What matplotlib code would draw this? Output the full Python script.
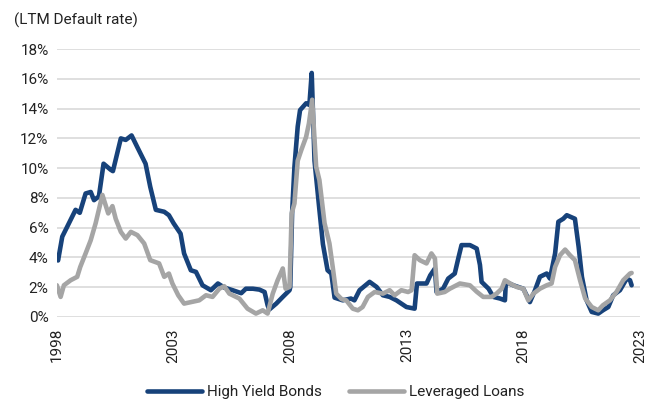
import numpy as np
import matplotlib.pyplot as plt

plt.rcParams['font.family'] = ['Roboto', 'DejaVu Sans']

# LTM default rates, decimal year vs percent
hy_year = [1998.0, 1998.05, 1998.23, 1998.44, 1998.8, 1998.98, 1999.23, 1999.45, 1999.59, 1999.8,
           2000.0, 2000.3, 2000.4, 2000.74, 2000.95, 2001.2, 2001.45, 2001.8, 2002.0, 2002.24,
           2002.6, 2002.8, 2003.0, 2003.3, 2003.45, 2003.74, 2003.96, 2004.24, 2004.6, 2004.9,
           2005.17, 2005.53, 2005.9, 2006.1, 2006.4, 2006.68, 2006.9, 2007.03, 2007.1, 2007.4,
           2007.68, 2007.97, 2008.0, 2008.08, 2008.18, 2008.32, 2008.42, 2008.68, 2008.82, 2008.92,
           2009.04, 2009.25, 2009.4, 2009.6, 2009.76, 2009.9, 2010.25, 2010.6, 2010.75, 2010.97,
           2011.4, 2011.7, 2011.97, 2012.26, 2012.55, 2012.98, 2013.33, 2013.43, 2013.84, 2014.0,
           2014.2, 2014.27, 2014.55, 2014.77, 2015.05, 2015.2, 2015.34, 2015.7, 2015.99, 2016.13,
           2016.2, 2016.5, 2016.7, 2016.99, 2017.2, 2017.24, 2017.56, 2017.99, 2018.27, 2018.49,
           2018.7, 2018.99, 2019.13, 2019.35, 2019.49, 2019.7, 2019.85, 2020.2, 2020.36, 2020.5,
           2020.7, 2020.92, 2021.2, 2021.4, 2021.63, 2021.84, 2022.13, 2022.42, 2022.56, 2022.63]
hy_rate = [4.0, 3.8, 5.4, 6.06, 7.2, 7.0, 8.3, 8.4, 7.85, 8.1,
           10.3, 9.9, 9.8, 12.0, 11.9, 12.2, 11.4, 10.3, 8.75, 7.2,
           7.07, 6.84, 6.3, 5.6, 4.27, 3.14, 3.03, 2.13, 1.8, 2.25,
           1.98, 1.8, 1.6, 1.9, 1.9, 1.84, 1.68, 0.79, 0.5, 0.9,
           1.35, 1.8, 2.0, 7.0, 10.1, 12.8, 13.9, 14.36, 14.25, 16.4,
           10.5, 7.2, 4.9, 3.14, 2.92, 1.3, 1.12, 1.24, 1.12, 1.8,
           2.36, 2.02, 1.46, 1.35, 1.12, 0.67, 0.56, 2.25, 2.25, 2.8,
           3.26, 1.68, 1.9, 2.58, 2.92, 3.93, 4.83, 4.83, 4.6, 3.5,
           2.36, 1.9, 1.35, 1.24, 1.12, 2.36, 2.13, 1.9, 1.0, 1.8,
           2.7, 2.92, 2.58, 4.27, 6.4, 6.6, 6.84, 6.6, 4.7, 2.7,
           1.12, 0.34, 0.23, 0.45, 0.67, 1.46, 1.8, 2.58, 2.47, 2.13]

ll_year = [1998.0, 1998.16, 1998.3, 1998.59, 1998.87, 1999.0, 1999.23, 1999.45, 1999.66, 1999.95,
           2000.2, 2000.38, 2000.52, 2000.74, 2000.95, 2001.17, 2001.45, 2001.74, 2002.0, 2002.38,
           2002.6, 2002.8, 2002.95, 2003.2, 2003.45, 2004.1, 2004.39, 2004.67, 2004.96, 2005.17,
           2005.39, 2005.82, 2006.17, 2006.53, 2006.82, 2007.03, 2007.25, 2007.46, 2007.68, 2007.8,
           2007.97, 2008.06, 2008.18, 2008.32, 2008.47, 2008.68, 2008.8, 2008.94, 2009.11, 2009.25,
           2009.47, 2009.68, 2009.82, 2009.97, 2010.2, 2010.4, 2010.68, 2010.9, 2011.1, 2011.33,
           2011.62, 2011.97, 2012.26, 2012.47, 2012.76, 2013.05, 2013.2, 2013.33, 2013.55, 2013.84,
           2014.05, 2014.2, 2014.3, 2014.62, 2014.84, 2015.27, 2015.7, 2015.99, 2016.27, 2016.63,
           2016.84, 2017.06, 2017.2, 2017.42, 2017.7, 2017.99, 2018.2, 2018.42, 2018.7, 2018.99,
           2019.2, 2019.35, 2019.56, 2019.78, 2019.99, 2020.2, 2020.42, 2020.64, 2020.92, 2021.2,
           2021.4, 2021.7, 2021.98, 2022.27, 2022.56, 2022.63]
ll_rate = [2.13, 1.35, 2.13, 2.47, 2.7, 3.36, 4.27, 5.16, 6.3, 8.2,
           6.96, 7.45, 6.6, 5.72, 5.27, 5.72, 5.5, 4.94, 3.82, 3.6,
           2.7, 2.92, 2.25, 1.46, 0.9, 1.12, 1.46, 1.35, 1.9, 2.07,
           1.57, 1.24, 0.56, 0.23, 0.45, 0.23, 1.57, 2.47, 3.26, 1.9,
           2.02, 6.96, 7.63, 10.5, 11.2, 12.1, 13.0, 14.6, 10.1, 9.2,
           6.3, 4.94, 3.36, 1.57, 1.2, 1.12, 0.56, 0.45, 0.67, 1.35,
           1.68, 1.57, 1.8, 1.46, 1.8, 1.68, 1.8, 4.15, 3.82, 3.6,
           4.27, 3.93, 1.57, 1.68, 1.9, 2.25, 2.13, 1.7, 1.35, 1.35,
           1.57, 1.9, 2.47, 2.25, 2.02, 1.9, 1.12, 1.57, 1.9, 2.13,
           2.25, 3.36, 4.15, 4.53, 4.15, 3.82, 2.47, 1.24, 0.67, 0.45,
           0.79, 1.12, 1.68, 2.47, 2.92, 2.96]

year_ticks = [1998, 2003, 2008, 2013, 2018, 2023]
pct_ticks = np.arange(0, 19, 2)

fig = plt.figure(figsize=(6.54, 4.01), dpi=100)
ax = fig.add_axes([0.087, 0.2095, 0.892, 0.668])

ax.plot(hy_year, hy_rate, color='#17427a', lw=3.3, solid_joinstyle='round',
        solid_capstyle='round', label='High Yield Bonds')
ax.plot(ll_year, ll_rate, color='#a5a5a5', lw=3.3, solid_joinstyle='round',
        solid_capstyle='round', label='Leveraged Loans')

ax.set_xlim(1998, 2023)
ax.set_ylim(0, 18)
ax.set_xticks(year_ticks)
ax.set_xticklabels([str(y) for y in year_ticks], rotation=90)
ax.set_yticks(pct_ticks)
ax.set_yticklabels([f'{v}%' for v in pct_ticks])
ax.tick_params(length=0, labelsize=11, colors='#222222', pad=6)
ax.tick_params(axis='x', pad=8)
ax.grid(axis='y', color='#d9d9d9', lw=1.2)
ax.set_axisbelow(True)
for s in ax.spines.values():
    s.set_visible(False)

fig.text(0.021, 0.95, '(LTM Default rate)', fontsize=11, color='#222222', va='center')

fig.legend(loc='center', bbox_to_anchor=(0.513, 0.022), ncol=2, frameon=False,
           fontsize=11, handlelength=3.6, columnspacing=1.8, handletextpad=0.3,
           labelcolor='#222222')

fig.savefig('out.png', dpi=100)
